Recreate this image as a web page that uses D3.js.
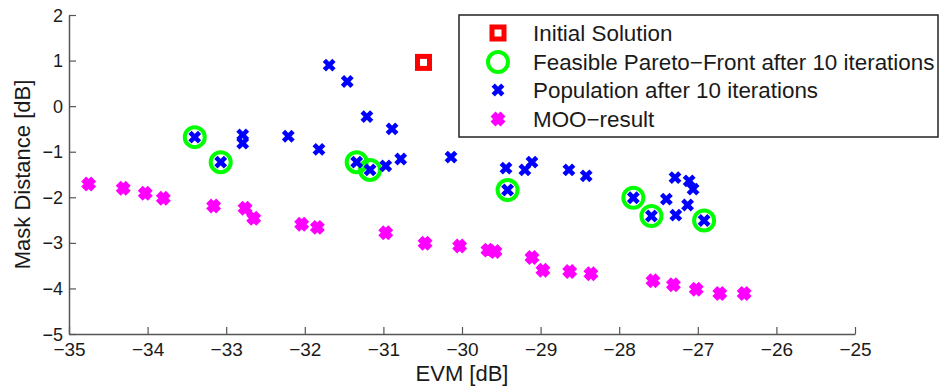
<!DOCTYPE html>
<html>
<head>
<meta charset="utf-8">
<script src="https://cdn.jsdelivr.net/npm/d3@7"></script>
<style>
  body { margin: 0; background: #fff; }
  svg { display: block; font-family: "Liberation Sans", Arial, sans-serif; }
</style>
</head>
<body>
<svg id="chart" width="940" height="390"></svg>
<script>
const xTicks = [-35, -34, -33, -32, -31, -30, -29, -28, -27, -26, -25];
const yTicks = [-5, -4, -3, -2, -1, 0, 1, 2];

// initial solution
const initialX = [-30.49];
const initialY = [0.96];

// population after 10 iterations
const popX = [-31.69, -31.46, -31.21, -30.89, -33.40, -32.79, -32.79, -32.21, -31.82, -33.07,
  -31.34, -31.17, -30.97, -30.78, -30.14, -29.44, -29.20, -29.11, -28.64, -28.42,
  -29.42, -27.82, -27.59, -27.29, -27.11, -27.06, -27.40, -27.13, -27.28, -26.92];
const popY = [0.90, 0.54, -0.23, -0.50, -0.68, -0.63, -0.81, -0.66, -0.95, -1.23,
  -1.23, -1.40, -1.31, -1.16, -1.12, -1.36, -1.40, -1.23, -1.40, -1.53,
  -1.84, -2.01, -2.41, -1.57, -1.64, -1.82, -2.04, -2.17, -2.39, -2.51];

// feasible pareto front after 10 iterations
const paretoX = [-33.40, -33.07, -31.34, -31.17, -29.42, -27.82, -27.59, -26.92];
const paretoY = [-0.68, -1.23, -1.23, -1.40, -1.84, -2.01, -2.41, -2.51];

// MOO result
const mooX = [-34.75, -34.31, -34.03, -33.80, -33.16, -32.76, -32.65, -32.04, -31.84, -30.97,
  -30.47, -30.03, -29.67, -29.58, -29.11, -28.97, -28.63, -28.36, -27.57, -27.31,
  -27.02, -26.72, -26.41];
const mooY = [-1.71, -1.80, -1.91, -2.02, -2.19, -2.24, -2.46, -2.59, -2.66, -2.78,
  -3.01, -3.07, -3.16, -3.19, -3.32, -3.60, -3.63, -3.68, -3.83, -3.92,
  -4.02, -4.11, -4.11];

const legendLabels = ['Initial Solution', 'Feasible Pareto\u2212Front after 10 iterations',
  'Population after 10 iterations', 'MOO\u2212result'];

const plot = { left: 69, right: 855, top: 15, bottom: 334 };
const axisColor = '#555';
const textColor = '#1a1a1a';

const svg = d3.select('#chart');

const xScale = d3.scaleLinear().domain([-35, -25]).range([plot.left, plot.right]);
const yScale = d3.scaleLinear().domain([-5, 2]).range([plot.bottom, plot.top]);

const fmt = d => d < 0 ? '\u2212' + Math.abs(d) : String(d);

// axes (matlab style, ticks inward)
const xAxis = svg.append('g')
  .attr('transform', `translate(0, ${plot.bottom})`)
  .call(d3.axisBottom(xScale).tickValues(xTicks).tickSizeInner(-7).tickSizeOuter(0).tickPadding(9).tickFormat(fmt));
const yAxis = svg.append('g')
  .attr('transform', `translate(${plot.left}, 0)`)
  .call(d3.axisLeft(yScale).tickValues(yTicks).tickSizeInner(-7).tickSizeOuter(0).tickPadding(13).tickFormat(fmt));

[xAxis, yAxis].forEach(ax => {
  ax.select('.domain').attr('stroke', axisColor).attr('stroke-width', 1.5);
  ax.selectAll('.tick line').attr('stroke', axisColor).attr('stroke-width', 1.2);
  ax.selectAll('.tick text').attr('fill', textColor)
    .style('font-family', '"Liberation Sans", Arial, sans-serif');
});
xAxis.selectAll('.tick text').style('font-size', '19px');
yAxis.selectAll('.tick text').style('font-size', '18px').attr('x', -6).attr('dy', '0.34em');

svg.append('text')
  .attr('x', (plot.left + plot.right) / 2)
  .attr('y', 381)
  .attr('text-anchor', 'middle')
  .attr('fill', textColor)
  .style('font-size', '22px')
  .text('EVM [dB]');

svg.append('text')
  .attr('transform', `translate(30, ${(plot.top + plot.bottom) / 2}) rotate(-90)`)
  .attr('text-anchor', 'middle')
  .attr('fill', textColor)
  .style('font-size', '22px')
  .text('Mask Distance [dB]');

// marker helpers
const xPath = h => `M${-h},${-h}L${h},${h}M${-h},${h}L${h},${-h}`;

function drawSquare(g, cx, cy) {
  g.append('rect')
    .attr('x', cx - 6).attr('y', cy - 6)
    .attr('width', 12).attr('height', 12)
    .attr('fill', 'none').attr('stroke', '#ff0000').attr('stroke-width', 5);
}
function drawCircle(g, cx, cy) {
  g.append('circle')
    .attr('cx', cx).attr('cy', cy).attr('r', 10)
    .attr('fill', 'none').attr('stroke', '#00ff00').attr('stroke-width', 4);
}
function drawCross(g, cx, cy, color, h, w) {
  g.append('path')
    .attr('d', xPath(h))
    .attr('transform', `translate(${cx}, ${cy})`)
    .attr('fill', 'none').attr('stroke', color).attr('stroke-width', w);
}

const marks = svg.append('g');

initialX.forEach((x, i) => drawSquare(marks, xScale(x), yScale(initialY[i])));
paretoX.forEach((x, i) => drawCircle(marks, xScale(x), yScale(paretoY[i])));
popX.forEach((x, i) => drawCross(marks, xScale(x), yScale(popY[i]), '#0000ff', 4.8, 4.6));
mooX.forEach((x, i) => drawCross(marks, xScale(x), yScale(mooY[i]), '#ff00ff', 5, 7));

// legend
const legend = svg.append('g');
legend.append('rect')
  .attr('x', 459).attr('y', 15)
  .attr('width', 479).attr('height', 122)
  .attr('fill', '#fff').attr('stroke', '#222').attr('stroke-width', 1.5);

const rowY = [33, 62, 90, 119];
const markX = 498;
drawSquare(legend, markX, rowY[0]);
drawCircle(legend, markX, rowY[1]);
drawCross(legend, markX, rowY[2], '#0000ff', 4.8, 4.6);
drawCross(legend, markX, rowY[3], '#ff00ff', 5, 7);

legendLabels.forEach((label, i) => {
  legend.append('text')
    .attr('x', 533)
    .attr('y', rowY[i])
    .attr('dy', '0.36em')
    .attr('fill', textColor)
    .style('font-size', '22.4px')
    .text(label);
});
</script>
</body>
</html>
